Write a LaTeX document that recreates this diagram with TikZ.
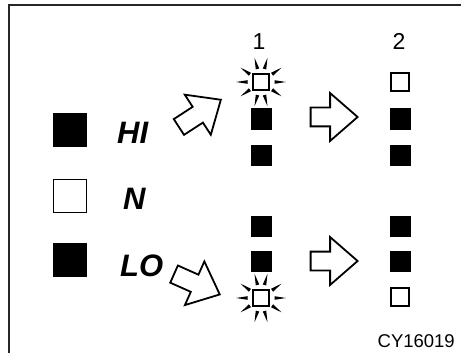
\documentclass[tikz,border=0pt]{standalone}
\usepackage{fontspec}
\setmainfont{Liberation Sans}
\usetikzlibrary{shapes.arrows,calc}

\begin{document}
\begin{tikzpicture}[x=1pt, y=-1pt,
    legon/.style={rectangle, draw=black, fill=black, line width=1pt,
        minimum size=33pt, inner sep=0pt},
    legoff/.style={legon, fill=white, line width=1.8pt},
    ledon/.style={rectangle, draw=black, fill=black, line width=1pt,
        minimum size=20pt, inner sep=0pt},
    ledoff/.style={ledon, fill=white, line width=1.8pt, minimum size=18pt},
    blink/.style={ledoff, minimum size=16.5pt},
    legtext/.style={inner sep=0pt, anchor=base west,
        font=\fontsize{31}{31}\selectfont\bfseries\itshape},
    coltext/.style={inner sep=0pt, anchor=base,
        font=\fontsize{23}{23}\selectfont},
    hollowarrow/.style={single arrow, draw=black, fill=white, line width=1.8pt,
        inner sep=0pt, minimum height=50pt, minimum width=0pt,
        single arrow head extend=14.5pt, single arrow tip angle=82,
        anchor=tip},
]

% Frame and page size
\useasboundingbox (0,0) rectangle (461,353);
\draw[line width=2pt, black!85] (461,5) -- (9,5) -- (9,353);

% Legend: HI / N / LO
\node[legon]  (hisq) at (70,130) {};
\node[legoff] (nsq)  at (70,196) {};
\node[legon]  (losq) at (70,260) {};
\node[legtext] (hitext) at (117,143) {HI};
\node[legtext] (ntext)  at (123,209) {N};
\node[legtext] (lotext) at (120,276) {LO};

% Column 1
\node[coltext] (num1) at (259,50) {1};
\node[blink] (b1top) at (261,82) {};
\node[ledon] (c1a) at (261,119) {};
\node[ledon] (c1b) at (261,155) {};
\node[ledon] (c1c) at (261,226) {};
\node[ledon] (c1d) at (261,261) {};
\node[blink] (b1bot) at (261,298) {};

% Column 2
\node[coltext] (num2) at (399,50) {2};
\node[ledoff] (c2a) at (400,82) {};
\node[ledon]  (c2b) at (400,119) {};
\node[ledon]  (c2c) at (400,155) {};
\node[ledon]  (c2d) at (400,226) {};
\node[ledon]  (c2e) at (400,261) {};
\node[ledoff] (c2f) at (400,297) {};

% Rays round the blinking lamps
\foreach \b in {b1top,b1bot}
  \foreach \a in {0,35,75,105,145,180,215,255,285,325}
    \fill ($(\b)+(\a:13.5)+(\a+90:1.8)$) -- ($(\b)+(\a:13.5)+(\a-90:1.8)$)
      -- ($(\b)+(\a:25)$) -- cycle;

% Arrows
\node[hollowarrow, rotate=33]  (arrhi) at (222,99) {\rule{0pt}{17pt}};
\node[hollowarrow, rotate=-24] (arrlo) at (221,295) {\rule{0pt}{17pt}};
\node[hollowarrow, minimum height=47pt] (arrtop) at (359,117) {\rule{0pt}{17pt}};
\node[hollowarrow, minimum height=47pt] (arrbot) at (359,261) {\rule{0pt}{17pt}};

% Figure code
\node[inner sep=0pt, anchor=base east, font=\fontsize{18.5}{18.5}\selectfont]
    (code) at (455,347) {CY16019};

\end{tikzpicture}
\end{document}
